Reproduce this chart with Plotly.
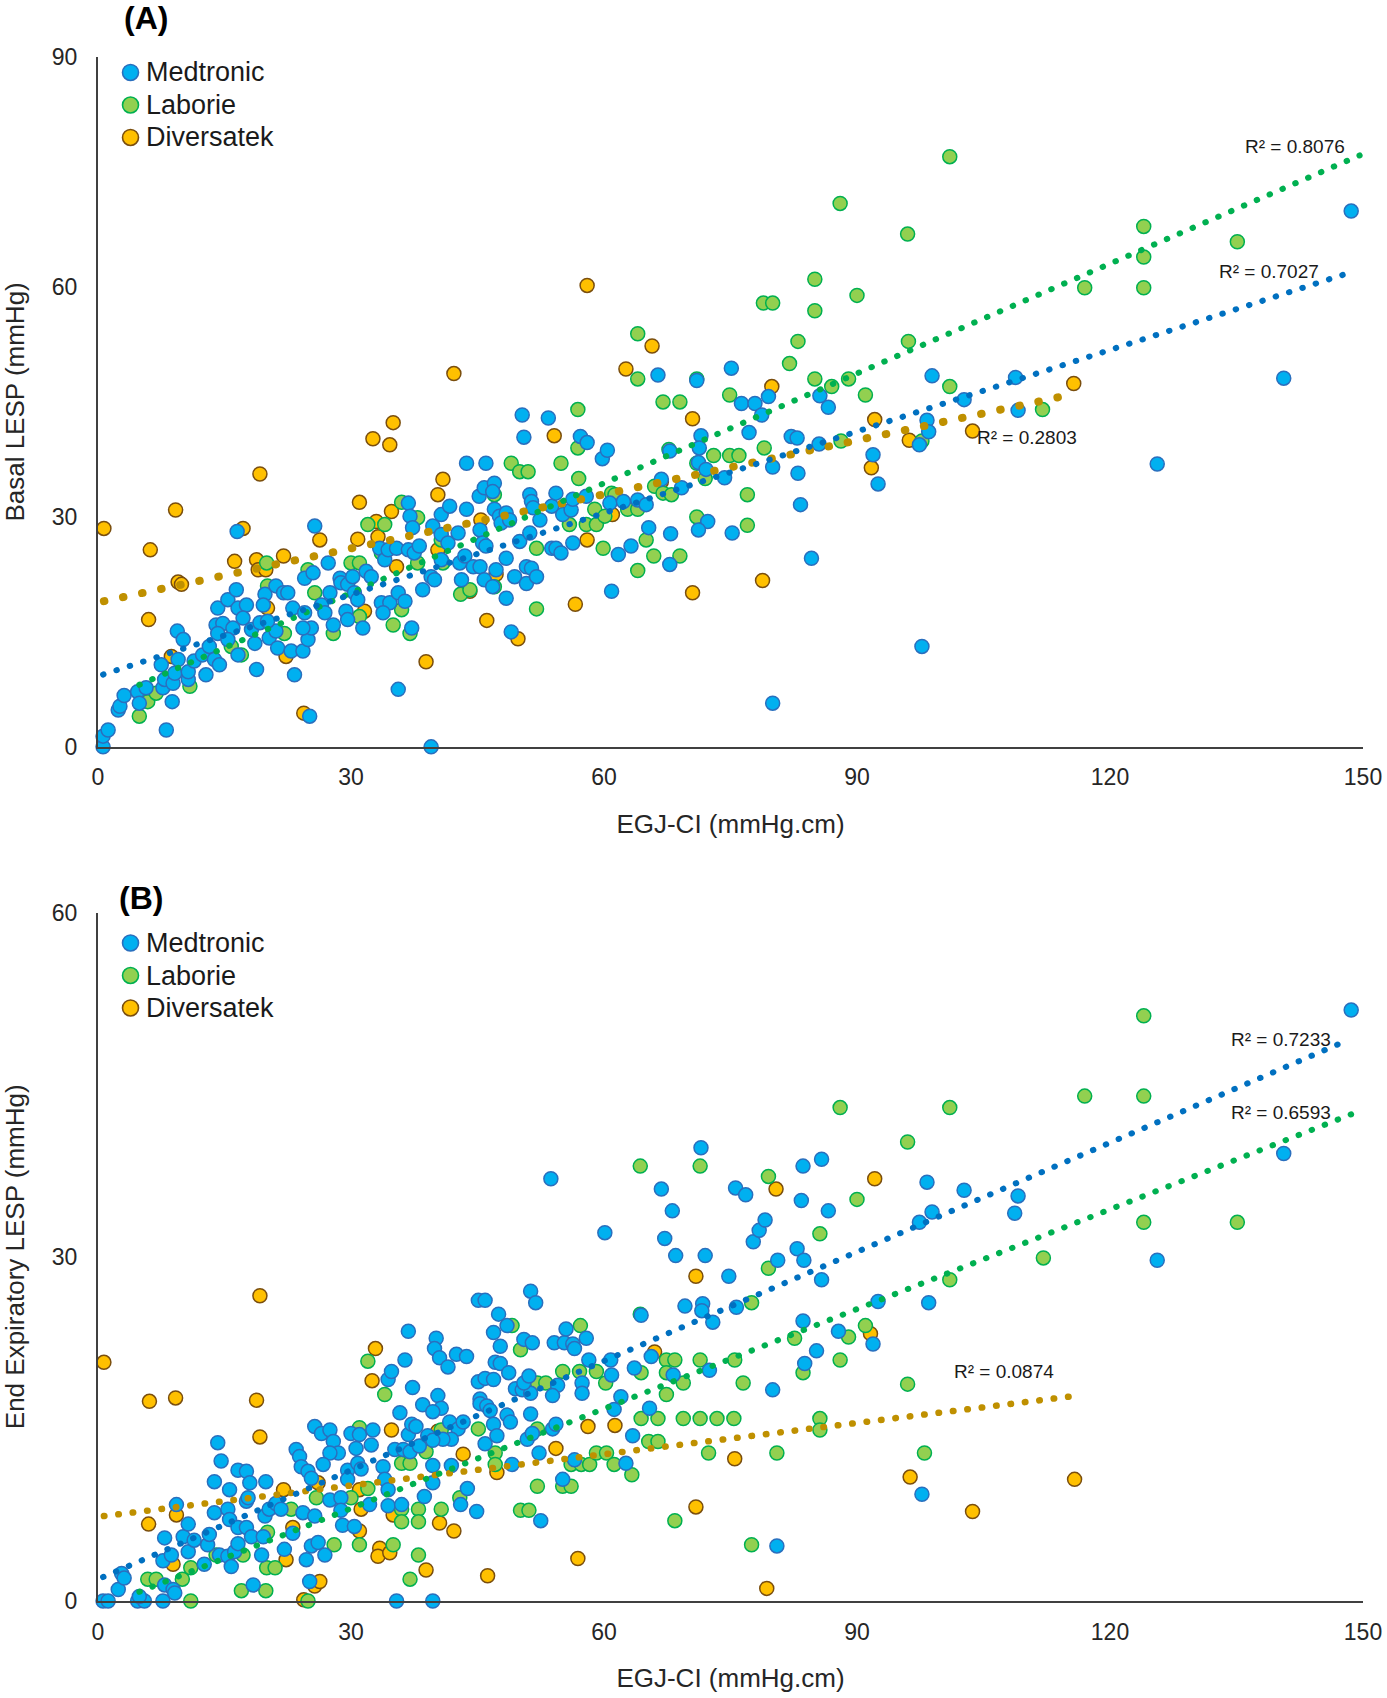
import plotly.graph_objects as go

# ---------------- DATA ----------------
series_names = ["Medtronic", "Laborie", "Diversatek"]

# Panel A: EGJ-CI (x) vs Basal LESP (y)
a_med_pts = [(0.6,0.0),(0.6,1.4),(1.2,2.2),(2.4,4.8),(2.6,5.3),(3.1,6.7),(4.7,7.2),(4.9,5.7),(5.7,7.7),(8.1,2.2),(8.8,5.9),(7.7,7.7),(7.9,8.8),(8.9,8.3),(9.1,9.6),(10.7,8.8),(10.7,9.8),(11.4,11.2),(7.5,10.7),(9.5,11.4),(9.4,15.1),(10.1,14.0),(12.8,9.4),(12.4,12.0),(13.2,13.1),(13.8,11.4),(14.4,10.7),(14.0,15.9),(14.2,18.1),(14.8,16.1),(14.2,14.8),(15.4,19.2),(16.4,20.5),(16.6,18.1),(17.6,18.5),(17.2,16.8),(16.5,28.1),(16.0,15.5),(15.4,14.0),(16.6,12.0),(18.2,15.3),(19.2,16.2),(19.8,19.9),(19.6,18.5),(18.6,13.5),(18.8,10.1),(20.3,14.2),(21.1,15.1),(20.1,16.4),(21.1,21.0),(22.0,20.1),(22.5,20.1),(21.3,12.9),(22.9,12.5),(24.3,12.5),(23.3,9.4),(25.1,4.0),(23.1,18.1),(24.5,17.5),(24.9,14.0),(25.3,15.5),(24.3,15.5),(24.5,22.0),(25.5,22.7),(25.7,28.8),(26.5,18.5),(26.9,17.5),(27.5,20.1),(27.9,15.9),(27.3,24.0),(28.7,22.0),(28.8,21.4),(29.6,21.2),(30.2,22.2),(30.4,20.1),(29.4,17.7),(29.6,16.6),(30.8,19.2),(31.4,15.5),(31.8,22.9),(32.4,22.2),(33.4,25.9),(34.0,24.4),(34.4,25.7),(33.6,18.8),(34.6,18.8),(33.8,17.5),(35.4,25.9),(36.8,31.8),(37.0,30.1),(37.3,28.6),(35.6,7.5),(35.6,20.1),(36.4,19.0),(36.8,25.7),(37.5,25.3),(38.1,26.2),(38.5,20.5),(39.5,22.2),(39.9,21.8),(37.2,15.5),(39.5,0.0),(39.7,28.8),(40.7,30.3),(40.7,27.7),(40.7,24.4),
             (41.5,26.6),(41.7,31.4),(42.7,27.9),(42.9,24.0),(43.1,21.8),(43.7,31.0),(43.7,37.0),(43.5,24.9),(44.5,23.5),(45.2,32.7),(45.8,33.8),(47.0,34.4),(46.8,33.3),(45.3,28.3),(45.6,26.6),(46.0,26.2),(45.3,23.5),(45.8,21.8),(46.8,20.9),(47.2,23.1),(46.0,37.0),(47.0,31.0),(47.6,30.1),(48.4,30.5),(47.8,29.2),(48.8,29.6),(48.4,24.6),(48.4,19.4),(49.0,15.0),(49.4,22.2),(50.0,26.8),(50.8,23.5),(50.8,21.3),(51.2,27.9),(51.4,23.3),(52.0,22.2),(50.3,43.3),(50.5,40.4),(53.4,42.9),(51.2,32.9),(51.4,32.0),(51.6,31.2),(52.4,29.6),(53.8,31.4),(54.3,33.1),(55.1,30.3),(56.1,30.9),(56.3,32.3),(53.8,25.9),(54.3,25.9),(54.9,25.3),(56.3,26.6),(57.2,40.5),(58.0,39.7),(59.8,37.6),(60.4,38.7),(57.9,32.7),(60.9,20.3),(60.7,31.8),(62.3,32.0),(64.0,32.2),(65.0,31.6),(61.7,25.1),(63.2,26.2),(65.3,28.6),(66.4,48.5),(66.8,34.9),(67.8,23.8),(67.9,27.8),(67.8,38.6),(69.2,33.8),(71.0,47.8),(71.5,40.6),(71.3,39.0),(71.2,37.1),(72.1,36.2),(72.3,29.4),(71.2,28.3),(74.3,35.1),(75.1,49.4),(75.2,27.9),(76.3,44.8),(77.9,44.8),(78.7,43.3),(79.5,45.7),(77.2,41.0),(80.0,36.5),(80.0,5.7),
             (82.2,40.5),(82.9,40.3),(83.0,35.7),(83.3,31.6),(84.6,24.6),(85.5,39.5),(85.6,45.8),(86.6,44.3),(91.9,38.1),(92.5,34.3),(97.4,39.4),(97.7,13.1),(98.3,42.6),(98.5,41.1),(98.9,48.4),(102.7,45.3),(108.8,48.2),(109.1,43.9),(125.6,36.9),(140.6,48.1),(148.6,69.9)]

a_lab_pts = [(4.9,4.0),(5.9,5.9),(6.9,7.0),(10.9,7.9),(15.8,13.1),(17.0,12.0),(20.0,24.0),(20.1,21.0),(22.1,14.8),(24.9,23.1),(25.7,20.1),(27.9,14.8),(30.0,24.0),(31.0,24.0),(31.0,17.0),(32.0,29.0),(34.0,29.0),(33.6,25.3),(35.0,15.9),(36.0,31.9),(37.0,14.8),(36.0,17.9),(37.9,29.9),(37.9,24.0),(40.7,27.0),
             (40.9,24.0),(43.0,19.9),(44.1,20.5),(47.0,32.9),(47.0,20.9),(49.0,37.0),(50.0,35.9),(51.0,35.9),(52.0,25.9),(52.0,18.0),(54.9,37.0),(56.9,39.0),(56.9,44.0),(57.0,35.0),(55.9,29.0),(57.9,29.0),(59.1,29.0),(58.9,31.0),(60.1,30.1),(59.9,25.9),(60.9,33.1),(61.3,32.9),(62.8,31.0),(64.0,31.0),(64.0,53.9),(64.0,48.0),(65.0,27.0),(64.0,23.0),(65.9,24.9),(69.0,24.9),(66.0,34.0),(67.0,33.1),(68.0,32.9),(67.0,45.0),(69.0,45.0),(67.7,38.8),(71.0,48.0),(71.0,37.0),(71.0,30.0),(72.0,35.0),(73.0,38.0),(74.9,38.0),(76.0,38.0),(74.9,45.9),(77.0,32.9),(77.0,28.9),(79.0,39.0),(78.9,57.9),(80.0,57.9),
             (82.0,50.0),(83.0,52.9),(85.0,61.0),(85.0,56.9),(85.0,48.0),(87.0,47.0),(88.0,70.9),(88.1,39.9),(89.0,48.0),(90.0,58.9),(91.0,45.9),(96.0,66.9),(96.1,52.9),(97.7,39.9),(101.0,77.0),(101.0,47.0),(112.0,44.0),(117.0,59.9),(124.0,67.9),(124.0,63.9),(124.0,59.9),(135.1,65.9)]

a_div_pts = [(0.7,28.5),(9.2,30.9),(6.2,25.7),(6.0,16.6),(9.5,21.5),(9.9,21.2),(8.7,11.8),(16.2,24.2),(17.2,28.5),(19.2,35.6),(18.8,24.4),(19.0,23.1),(19.9,23.1),(20.1,18.1),(22.0,24.9),(22.3,11.8),(24.4,4.4),(26.3,27.0),(31.0,31.9),(30.8,27.1),(32.6,40.2),(35.0,42.3),(34.6,39.4),(33.0,29.4),(33.2,27.4),(34.8,30.7),(35.4,23.5),(31.6,17.7),(38.9,11.1),(40.3,32.9),(40.9,34.9),(40.3,25.7),
             (42.2,48.7),(45.4,29.6),(44.1,20.3),(47.2,22.5),(46.1,16.5),(49.8,14.1),(54.1,40.6),(58.0,27.0),(58.0,60.2),(61.0,30.3),(56.6,18.6),(62.6,49.3),(65.7,52.3),(66.8,34.6),(70.5,42.8),(70.5,20.1),(78.8,21.7),(79.9,47.0),
             (91.7,36.4),(92.1,42.7),(96.2,40.0),(103.7,41.2),(115.7,47.4)]

# Panel B: EGJ-CI (x) vs End Expiratory LESP (y)
b_med_pts = [(0.6,0.0),(1.2,0.0),(4.7,0.0),(5.5,0.0),(7.7,0.0),(4.9,0.4),(2.4,1.0),(2.8,2.4),(3.1,2.0),(7.9,1.4),(8.9,1.0),(9.1,0.7),(7.7,3.5),(8.7,4.0),(7.9,5.5),(9.3,8.4),(10.1,5.6),(10.7,4.3),(10.7,6.7),(11.4,5.3),(12.6,3.2),(13.0,4.9),(13.2,5.8),(13.8,10.4),(14.2,13.8),(14.6,12.2),(13.8,7.7),(14.4,4.0),(15.4,3.9),(15.8,3.0),(16.2,4.3),(15.4,8.0),(15.6,7.1),(15.6,9.7),(16.6,11.4),(17.6,11.3),(18.0,10.3),(16.6,6.4),(17.6,6.4),(18.2,5.6),(16.6,5.0),(17.6,8.7),(17.8,9.0),(18.4,1.4),(19.4,4.0),(19.6,5.6),(19.8,7.4),(19.9,10.4),(20.3,8.0),(21.1,8.5),(21.7,8.0),(22.1,4.5),(23.1,5.9),(23.5,13.2),(23.9,12.6),(24.3,7.7),(24.1,11.7),(24.9,11.3),(25.3,10.7),(25.7,7.4),(24.7,3.6),(25.3,4.8),(26.1,5.1),(26.9,4.0),(25.1,1.7),(25.7,15.2),(26.5,14.6),(27.5,14.9),(27.9,13.9),(28.5,12.9),(27.5,12.9),(26.7,11.9),(27.5,8.8),(28.8,9.0),(28.8,7.9),(29.0,6.6),(30.4,6.5),(29.6,11.4),(29.6,10.6),(30.6,13.3),(30.8,12.0),(31.2,11.5),(30.0,14.6),(31.0,14.5),(32.6,14.9),(32.4,13.6),(33.8,11.7),(34.0,10.6),(34.4,9.7),(32.2,8.4),(34.4,8.3),(36.0,8.4),(35.4,0.0),(34.4,19.3),(34.8,20.0),(35.8,16.4),(36.4,21.0),(36.8,23.5),(37.3,18.6),(35.2,13.2),(36.2,13.2),(37.0,13.0),(38.1,13.5),(39.1,14.4),(36.8,14.5),(37.2,15.4),(37.7,15.2),(38.5,17.1),(38.7,9.1),
             (39.7,0.0),(40.1,22.9),(39.9,22.0),(40.5,21.2),(41.5,20.4),(42.5,21.5),(43.7,21.3),(40.3,17.9),(40.7,16.8),(39.7,16.5),(41.7,15.6),(42.7,15.0),(43.3,15.6),(41.9,14.1),(40.9,14.1),(39.7,14.0),(41.9,11.8),(39.7,11.8),(39.7,10.3),(43.8,9.8),(43.0,8.4),(44.9,7.8),(45.1,26.2),(45.9,26.2),(45.1,19.1),(45.9,19.4),(46.9,19.3),(45.3,17.6),(45.3,17.2),(46.1,17.0),(46.5,16.6),(46.9,23.4),(47.5,25.0),(48.5,24.0),(47.1,20.8),(47.7,20.7),(48.7,19.9),(47.7,22.2),(46.9,15.4),(47.3,14.4),(45.9,13.7),(48.5,16.2),(48.9,15.6),(49.1,11.9),(49.5,18.5),(50.3,18.4),(51.3,18.1),(50.5,19.0),(50.5,22.8),(51.5,22.5),(51.1,19.6),(51.3,27.0),(51.9,26.0),(51.3,16.3),(50.9,14.1),(51.5,14.6),(52.3,12.9),(52.5,7.0),(53.7,36.8),(53.9,15.0),(54.3,15.4),(54.1,22.5),(55.3,22.5),(55.5,23.7),(56.3,22.4),(56.5,22.0),(57.9,22.9),(54.5,18.8),(53.9,17.9),(55.1,10.6),(56.5,12.3),(57.4,19.0),(57.4,18.1),(58.2,21.0),(60.1,32.1),(60.8,21.0),(60.9,19.7),(61.2,16.7),(62.0,17.8),(62.6,12.0),(63.4,14.4),(63.6,20.3),(64.4,24.9),(65.4,16.8),(65.6,21.3),(66.8,35.9),(67.2,31.6),(68.1,34.0),(68.2,19.7),(68.5,30.1),(69.6,25.7),(71.5,39.5),(71.7,25.9),(71.6,25.3),(72.0,30.1),(72.5,20.1),(72.9,24.3),(74.8,28.3),(75.6,36.0),(76.8,35.4),(75.7,25.6),(77.7,31.3),(78.4,32.3),(79.1,33.2),(80.0,18.4),(80.5,4.8),(80.6,29.7),(82.9,30.7),(83.7,29.7),(83.4,34.9),(83.6,37.9),(83.6,24.4),(85.2,21.8),(83.8,20.7),
             (85.8,38.5),(86.6,34.0),(85.8,28.0),(87.8,23.5),(91.9,22.4),(92.5,26.1),(97.4,33.0),(97.7,9.3),(98.3,36.5),(98.5,26.0),(98.9,33.9),(102.7,35.8),(108.7,33.8),(109.1,35.3),(125.6,29.7),(140.6,39.0),(148.6,51.5)]

b_lab_pts = [(5.9,1.9),(6.9,1.9),(10.0,1.9),(11.0,2.9),(11.0,0.0),(17.0,0.9),(19.9,0.9),(20.0,2.9),(21.0,2.9),(14.0,4.0),(17.2,4.0),(20.1,6.0),(22.9,8.0),(24.9,0.0),(25.9,9.0),(28.0,4.9),(31.0,4.9),(31.0,15.1),(32.0,20.9),(35.0,4.9),(34.0,18.0),(36.0,12.0),(37.0,12.0),(37.0,1.9),(38.0,8.0),(38.0,6.9),(38.0,4.0),(38.9,13.0),(36.0,8.0),(36.0,6.9),(32.0,9.8),(30.0,9.0),(40.7,8.0),(40.7,14.9),
             (50.1,21.9),(49.1,24.0),(45.1,15.0),(47.1,12.9),(47.1,11.9),(42.9,9.0),(50.1,7.9),(51.1,7.9),(52.1,10.0),(52.1,15.0),(52.1,19.0),(53.1,19.0),(55.1,20.0),(57.1,20.0),(59.1,20.0),(60.2,19.0),(57.2,24.0),(55.1,10.0),(56.1,10.0),(56.1,11.9),(57.3,11.9),(58.3,11.9),(59.1,12.9),(60.3,12.9),(61.2,11.9),(63.3,11.0),(64.4,19.9),(64.3,25.0),(64.3,37.9),(64.4,15.9),(66.4,15.9),(65.3,13.9),(66.4,13.9),(67.4,21.0),(68.4,21.0),(67.4,19.9),(67.4,18.0),(69.4,19.0),(68.4,7.0),(69.4,15.9),(71.4,15.9),(73.4,15.9),(75.4,15.9),(71.4,37.9),(71.4,21.0),(72.4,12.9),(75.5,21.0),(76.5,19.0),(77.5,26.0),(77.5,4.9),(79.5,37.0),(79.5,29.0),(80.5,12.9),(82.6,22.9),(83.6,19.9),(85.6,32.0),(85.6,15.9),(85.6,14.9),
             (88.0,43.0),(88.0,21.0),(89.0,23.0),(90.0,35.0),(91.0,24.0),(96.0,40.0),(96.0,18.9),(98.0,12.9),(101.0,43.0),(101.0,28.0),(112.1,29.9),(117.0,44.0),(124.0,51.0),(124.0,44.0),(124.0,33.0),(135.1,33.0)]

b_div_pts = [(0.7,20.8),(6.1,17.4),(9.2,17.7),(19.2,26.6),(18.8,17.5),(19.2,14.3),(6.0,6.7),(9.3,7.5),(8.9,3.2),(22.0,9.7),(22.3,3.6),(23.1,6.4),(24.4,0.1),(25.7,1.3),(26.3,1.7),(26.1,10.3),(31.0,9.7),(31.2,8.0),(31.0,6.1),(33.4,4.6),(33.2,3.9),(34.6,4.2),(32.9,22.0),(32.5,19.2),(34.8,14.9),(35.0,7.5),(38.9,2.7),(40.5,6.8),(40.3,14.8),
             (42.2,6.1),(43.3,12.8),(46.2,2.2),(47.3,11.2),(54.3,13.3),(56.9,3.7),(58.1,15.2),(61.3,15.3),(66.0,21.7),(70.9,28.3),(70.9,8.2),(75.5,12.4),(79.3,1.1),(80.4,35.9),
             (91.6,23.3),(92.1,36.8),(96.3,10.8),(103.7,7.8),(115.8,10.6)]

# Linear trendlines (Excel): slope, intercept, x-span
a_trend_slope = [0.3547, 0.4773, 0.2350]
a_trend_intercept = [9.22, 5.76, 18.84]
a_trend_xstart = [0.6, 4.9, 0.7]
a_trend_xend = [148.0, 149.6, 114.7]
a_r2 = ["0.7027", "0.8076", "0.2803"]

b_trend_slope = [0.3170, 0.2896, 0.0909]
b_trend_intercept = [1.90, -0.62, 7.34]
b_trend_xstart = [0.6, 4.9, 0.7]
b_trend_xend = [147.5, 148.9, 115.1]
b_r2 = ["0.7233", "0.6593", "0.0874"]

x_ticks = [0, 30, 60, 90, 120, 150]
a_y_ticks = [0, 30, 60, 90]
b_y_ticks = [0, 30, 60]

# ---------------- STYLE ----------------
FONT = "Arial, 'Liberation Sans', sans-serif"
fill = {"Medtronic": "#00B0F0", "Laborie": "#92D050", "Diversatek": "#FFC000"}
edge = {"Medtronic": "#2A6FBE", "Laborie": "#00B050", "Diversatek": "#7A4E0E"}
trend_col = {"Medtronic": "#0070C0", "Laborie": "#00B050", "Diversatek": "#BF9000"}
a_trend_w = [6, 6, 8]
a_trend_dash = ["0.5px,13.5px", "0.5px,13.5px", "0.5px,19px"]
b_trend_w = [6, 6, 6.5]
b_trend_dash = ["0.5px,13.5px", "0.5px,13.5px", "0.5px,14px"]
# R² label positions (data coords)
a_r2_pos = [(138.8, 62.0), (141.9, 78.3), (110.1, 40.3)]
b_r2_pos = [(140.3, 48.9), (140.3, 42.6), (107.4, 20.0)]
# custom legend positions (paper coords)
leg_marker_x = 0.0257
leg_text_x = 0.0364
a_leg_y = [0.9900, 0.9689, 0.9479]
b_leg_y = [0.4262, 0.4051, 0.3841]

fig = go.Figure()

def add_panel(pts_list, slopes, intercepts, xs, xe, widths, dashes, xa, ya):
    # markers: Diversatek first (bottom), Medtronic last (top)
    for idx in [2, 1, 0]:
        name = series_names[idx]
        pts = pts_list[idx]
        fig.add_trace(go.Scatter(
            x=[p[0] for p in pts], y=[p[1] for p in pts], mode="markers", name=name,
            marker=dict(size=14, color=fill[name], line=dict(color=edge[name], width=1.5)),
            xaxis=xa, yaxis=ya, showlegend=False, cliponaxis=False))
    for idx in [2, 1, 0]:
        name = series_names[idx]
        x0, x1 = xs[idx], xe[idx]
        fig.add_trace(go.Scatter(
            x=[x0, x1], y=[intercepts[idx] + slopes[idx] * x0, intercepts[idx] + slopes[idx] * x1],
            mode="lines", showlegend=False, hoverinfo="skip",
            line=dict(color=trend_col[name], width=widths[idx], dash=dashes[idx]),
            xaxis=xa, yaxis=ya, cliponaxis=False))

add_panel([a_med_pts, a_lab_pts, a_div_pts], a_trend_slope, a_trend_intercept,
          a_trend_xstart, a_trend_xend, a_trend_w, a_trend_dash, "x", "y")
add_panel([b_med_pts, b_lab_pts, b_div_pts], b_trend_slope, b_trend_intercept,
          b_trend_xstart, b_trend_xend, b_trend_w, b_trend_dash, "x2", "y2")

annotations = []
shapes = []
for i in range(3):
    annotations.append(dict(x=a_r2_pos[i][0], y=a_r2_pos[i][1], xref="x", yref="y",
                            text="R² = " + a_r2[i], showarrow=False,
                            font=dict(size=19, color="#1a1a1a", family=FONT)))
    annotations.append(dict(x=b_r2_pos[i][0], y=b_r2_pos[i][1], xref="x2", yref="y2",
                            text="R² = " + b_r2[i], showarrow=False,
                            font=dict(size=19, color="#1a1a1a", family=FONT)))
    name = series_names[i]
    for ly in (a_leg_y[i], b_leg_y[i]):
        annotations.append(dict(x=leg_text_x, y=ly, xref="paper", yref="paper", text=name,
                                showarrow=False, xanchor="left", yanchor="middle",
                                font=dict(size=27, color="#1a1a1a", family=FONT)))
        shapes.append(dict(type="circle", xref="paper", yref="paper",
                           xsizemode="pixel", ysizemode="pixel",
                           xanchor=leg_marker_x, yanchor=ly,
                           x0=-8, x1=8, y0=-8, y1=8,
                           fillcolor=fill[name], line=dict(color=edge[name], width=1.6)))
annotations.append(dict(x=0.0379, y=1.0253, xref="paper", yref="paper", text="<b>(A)</b>",
                        showarrow=False, xanchor="center", yanchor="middle",
                        font=dict(size=32, color="black", family=FONT)))
annotations.append(dict(x=0.0340, y=0.4553, xref="paper", yref="paper", text="<b>(B)</b>",
                        showarrow=False, xanchor="center", yanchor="middle",
                        font=dict(size=32, color="black", family=FONT)))

axis_base = dict(showgrid=False, zeroline=False, showline=True, linecolor="#404040",
                 linewidth=2, ticks="", tickfont=dict(size=23, color="#262626", family=FONT),
                 title_font=dict(size=26, color="#262626", family=FONT), automargin=False)

fig.update_layout(
    width=1387, height=1698,
    margin=dict(l=98, r=24, t=57, b=97),
    plot_bgcolor="white", paper_bgcolor="white",
    font=dict(family=FONT),
    showlegend=False,
    xaxis=dict(axis_base, domain=[0, 1], anchor="y", range=[0, 150], tickvals=x_ticks,
               ticklabelstandoff=9, title=dict(text="EGJ-CI (mmHg.cm)", standoff=25)),
    yaxis=dict(axis_base, domain=[0.5532, 1], anchor="x", range=[0, 90], tickvals=a_y_ticks,
               ticklabelstandoff=14, title=dict(text="Basal LESP (mmHg)", standoff=26)),
    xaxis2=dict(axis_base, domain=[0, 1], anchor="y2", range=[0, 150], tickvals=x_ticks,
                ticklabelstandoff=9, title=dict(text="EGJ-CI (mmHg.cm)", standoff=25)),
    yaxis2=dict(axis_base, domain=[0, 0.4459], anchor="x2", range=[0, 60], tickvals=b_y_ticks,
                ticklabelstandoff=14, title=dict(text="End Expiratory LESP (mmHg)", standoff=26)),
    annotations=annotations,
    shapes=shapes,
)

post = """
document.body.style.margin='0';
document.querySelectorAll('path.js-line').forEach(function(p){p.style.strokeLinecap='round';});
"""
fig.write_html("out.html", post_script=post, config={"displayModeBar": False})
